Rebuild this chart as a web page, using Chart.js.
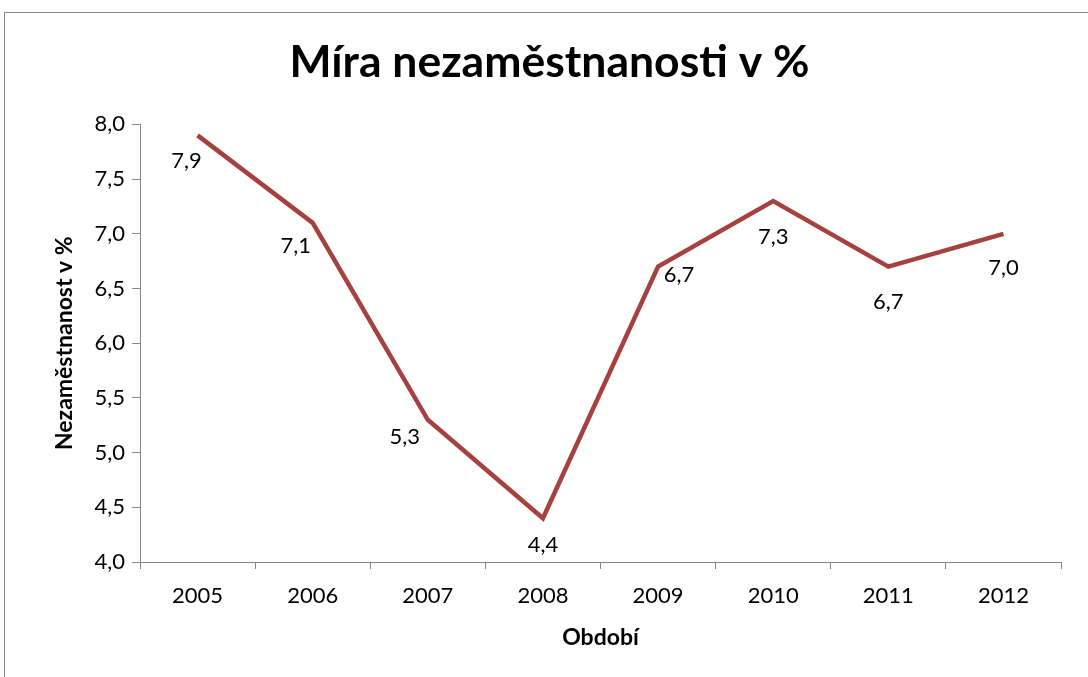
<!DOCTYPE html>
<html>
<head>
<meta charset="utf-8">
<script src="https://cdn.jsdelivr.net/npm/chart.js@4"></script>
<style>
  html, body { margin: 0; padding: 0; background: #fff; }
  #wrap { width: 1088px; height: 677px; }
</style>
</head>
<body>
<div id="wrap"><canvas id="nezamChart" width="1088" height="677"></canvas></div>
<script>
// data
const years = ['2005', '2006', '2007', '2008', '2009', '2010', '2011', '2012'];
const rates = [7.9, 7.1, 5.3, 4.4, 6.7, 7.3, 6.7, 7.0];
const yTicks = [4.0, 4.5, 5.0, 5.5, 6.0, 6.5, 7.0, 7.5, 8.0];

const FONT = 'Lato, "Open Sans", sans-serif';
const LINE_COLOR = '#a5413e';
const AXIS_COLOR = '#868686';

// label offsets next to each point (dx, dy in px)
const labelShift = [[-11, 26], [-17, 23], [-23, 17], [0, 27], [21, 8], [0, 36], [0, 35], [0, 34]];

function fmt(v) {
    return v.toFixed(1).replace('.', ',');
}

const frame = {
    id: 'frame',
    afterDraw(chart) {
        const c = chart.ctx;
        c.save();
        c.strokeStyle = AXIS_COLOR;
        c.lineWidth = 1;
        c.strokeRect(4.5, 12.5, 1200, 800);
        c.restore();
    }
};

const pointLabels = {
    id: 'pointLabels',
    afterDatasetsDraw(chart) {
        const c = chart.ctx;
        const meta = chart.getDatasetMeta(0);
        c.save();
        c.font = '22px ' + FONT;
        c.fillStyle = '#000';
        c.textAlign = 'center';
        c.textBaseline = 'middle';
        meta.data.forEach((pt, i) => {
            const s = labelShift[i];
            c.fillText(fmt(rates[i]), pt.x + s[0], pt.y + s[1]);
        });
        c.restore();
    }
};

const config = {
    type: 'line',
    data: {
        labels: years,
        datasets: [{
            data: rates,
            borderColor: LINE_COLOR,
            borderWidth: 4.5,
            pointRadius: 0,
            tension: 0,
            fill: false
        }]
    },
    options: {
        responsive: false,
        animation: false,
        // left padding shifts the title centre to match the original
        layout: { padding: { top: 20, right: 27, left: 38, bottom: 0 } },
        plugins: {
            legend: { display: false },
            tooltip: { enabled: false },
            title: {
                display: true,
                text: 'Míra nezaměstnanosti v %',
                color: '#000',
                font: { family: FONT, size: 44.5, weight: 'bold' },
                padding: { top: 16, bottom: 35 }
            }
        },
        scales: {
            x: {
                offset: true,
                grid: {
                    offset: true,
                    drawOnChartArea: false,
                    drawTicks: true,
                    tickLength: 7,
                    color: AXIS_COLOR
                },
                border: { display: true, color: AXIS_COLOR, width: 1 },
                ticks: {
                    color: '#000',
                    font: { family: FONT, size: 22 },
                    padding: 14,
                    maxRotation: 0
                },
                title: {
                    display: true,
                    text: 'Období',
                    color: '#000',
                    font: { family: FONT, size: 23, weight: 'bold' },
                    padding: { top: 0, bottom: 26 }
                },
                afterFit(scale) { scale.height = 115; }
            },
            y: {
                min: 4,
                max: 8,
                afterBuildTicks(scale) {
                    scale.ticks = yTicks.map(v => ({ value: v }));
                },
                grid: {
                    drawOnChartArea: false,
                    drawTicks: true,
                    tickLength: 8,
                    color: AXIS_COLOR
                },
                border: { display: true, color: AXIS_COLOR, width: 1 },
                ticks: {
                    color: '#000',
                    font: { family: FONT, size: 22 },
                    padding: 7,
                    callback: v => fmt(v)
                },
                title: {
                    display: true,
                    text: 'Nezaměstnanost v %',
                    color: '#000',
                    font: { family: FONT, size: 23, weight: 'bold' },
                    padding: { top: 13, bottom: 0 }
                },
                afterFit(scale) { scale.width = 102; }
            }
        }
    },
    plugins: [frame, pointLabels]
};

new Chart(document.getElementById('nezamChart').getContext('2d'), config);
</script>
</body>
</html>
